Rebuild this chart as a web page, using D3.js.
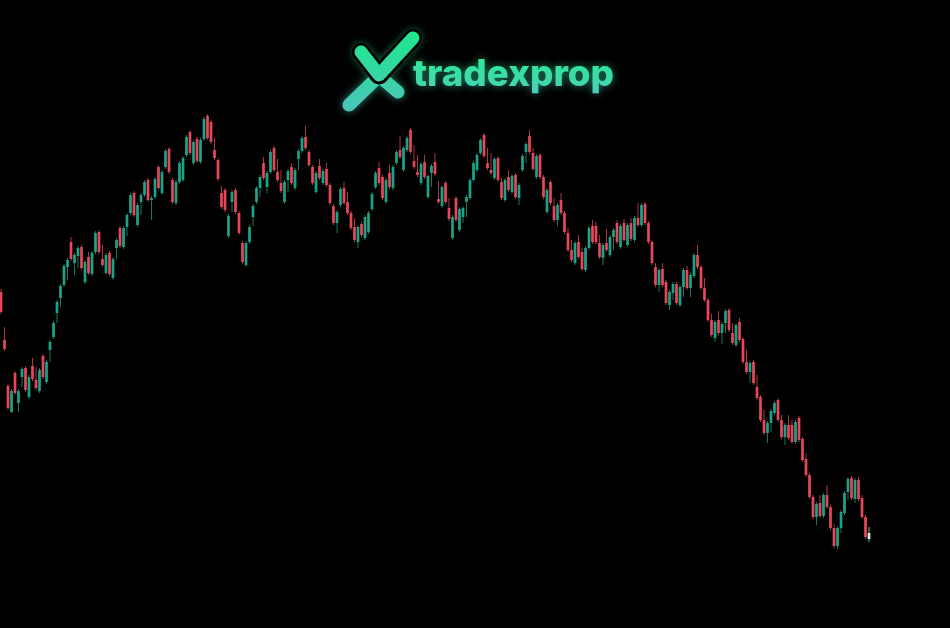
<!DOCTYPE html>
<html><head><meta charset="utf-8">
<script src="https://cdn.jsdelivr.net/npm/d3@7"></script>
<style>html,body{margin:0;padding:0;background:#000;overflow:hidden}</style>
</head><body>
<svg id="chart" width="950" height="628"></svg>
<script>
// OHLC series (price units), one entry per candle
const open = [708,660,614,588,627,597,623,632,603,634,620,609,644,618,650,663,687,702,715,733,758,737,744,753,718,743,726,748,768,741,
727,747,722,752,772,753,773,787,807,775,798,805,820,800,803,833,807,833,851,820,797,818,820,845,868,837,861,838,861,884,
878,850,840,807,810,764,798,810,787,757,735,758,783,798,812,837,813,828,852,828,817,798,820,833,812,841,849,863,848,833,
808,834,817,831,815,794,777,795,812,798,787,773,758,776,762,768,791,813,832,823,798,827,812,837,850,830,850,870,839,828,
817,838,803,827,838,801,794,817,792,762,802,770,783,798,802,820,830,847,865,837,830,822,842,818,800,823,808,825,802,830,
848,864,847,823,845,823,788,818,794,780,800,787,767,750,737,758,748,730,752,774,774,757,742,757,745,763,777,753,777,755,
777,760,782,775,796,777,758,733,715,731,718,695,707,716,695,713,730,712,724,745,733,712,700,680,662,680,667,677,690,667,
655,678,661,638,628,638,613,603,580,567,577,587,600,580,563,575,575,558,582,561,541,525,503,483,497,484,505,493,472,454,
472,487,508,522,501,520,502,483,461];
const high = [711,673,616,611,629,611,633,634,625,642,633,632,646,640,660,679,700,716,736,742,763,747,754,755,740,748,749,769,770,755,
747,749,743,762,774,774,787,807,809,797,807,820,822,804,823,835,830,851,853,822,820,839,844,865,870,860,863,862,883,886,
880,862,842,814,812,786,810,812,789,759,759,775,796,814,825,843,829,850,854,841,830,820,831,837,832,851,864,874,850,835,
829,841,831,837,817,796,790,813,818,808,789,782,775,778,785,789,808,829,838,825,822,835,835,850,864,854,864,872,855,845,
838,845,826,836,847,819,815,819,802,785,804,793,794,805,822,839,847,862,867,852,847,843,844,822,822,830,826,827,817,846,
858,870,852,846,847,825,812,820,802,797,807,789,772,760,759,765,752,754,774,780,778,765,757,771,765,772,780,776,781,777,
782,784,797,797,798,779,760,737,732,737,720,710,718,718,715,732,734,727,747,755,735,722,702,686,680,689,678,691,692,677,
677,682,663,650,639,640,625,605,590,579,591,599,602,585,577,585,580,580,584,563,547,527,505,498,505,507,515,495,476,474,
490,509,523,524,522,523,505,485,473];
const low = [686,649,590,587,605,588,613,608,601,619,610,607,621,616,638,661,677,693,713,720,739,725,732,730,716,725,724,746,746,733,
725,724,720,741,752,751,764,785,783,773,785,803,798,780,801,810,805,831,826,796,795,816,818,843,845,835,837,836,859,860,
856,840,819,791,788,762,788,786,765,736,733,756,774,796,803,820,807,826,828,818,807,796,808,815,810,830,847,850,833,815,
806,820,815,813,795,775,767,793,795,785,770,758,752,763,760,766,789,811,815,800,796,811,810,835,841,828,848,846,831,823,
815,821,801,813,824,796,792,796,779,760,778,768,777,783,800,818,828,845,842,830,825,820,818,800,798,808,806,801,795,828,
837,846,829,821,821,801,786,795,778,774,785,766,748,738,735,741,729,728,750,756,756,741,735,748,743,750,756,751,758,753,
759,758,773,773,775,756,735,713,708,713,695,690,700,695,693,703,710,703,722,731,710,698,678,663,658,665,656,667,668,655,
653,658,636,626,617,615,600,578,565,557,568,585,578,561,555,560,556,556,558,538,523,501,481,475,482,482,491,470,452,451,
467,485,500,500,497,499,481,461,458];
const close = [688,651,592,609,607,609,631,610,623,621,612,630,623,638,658,677,698,714,734,740,741,745,752,732,738,727,747,767,748,735,
745,726,741,760,754,772,785,805,785,795,805,818,800,802,821,812,828,849,828,798,818,837,842,863,847,858,839,860,881,862,
858,842,821,793,790,784,808,788,767,738,757,773,794,812,823,822,827,848,830,820,809,818,829,817,830,849,862,852,835,817,
827,822,829,815,797,777,788,811,797,787,772,760,773,765,783,787,806,827,817,802,820,813,833,848,843,852,862,848,833,825,
836,823,824,834,826,798,813,798,781,783,780,791,792,803,820,837,845,860,844,832,827,841,820,802,820,810,824,803,815,844,
856,848,831,844,823,803,810,797,780,795,787,768,750,740,757,743,731,752,772,758,758,743,755,750,763,770,758,774,760,775,
761,782,775,795,777,758,737,715,730,715,697,708,716,697,713,730,712,725,745,733,712,700,680,665,678,667,676,689,670,657,
675,660,638,628,637,617,602,580,567,577,589,597,580,563,575,562,558,578,560,540,525,503,483,496,484,505,493,472,454,472,
488,507,521,502,520,501,483,463,467];
const brandName = "tradexprop";

const W = 950, H = 628;
const svg = d3.select("#chart");
svg.append("rect").attr("width", W).attr("height", H).attr("fill", "#000");

const idx = d3.range(open.length);
const x = d3.scaleLinear().domain([0, open.length - 1]).range([1, 869]);
const y = d3.scaleLinear().domain([372, 1000]).range([H, 0]);

const upCol = "#1ba387", downCol = "#e6485a", lastCol = "#c6f2d8";
const colorOf = i => i === open.length - 1 ? lastCol : (close[i] >= open[i] ? upCol : downCol);
const bodyW = 2.7;

const g = svg.append("g");
g.selectAll("line.wick").data(idx).join("line").attr("class", "wick")
  .attr("x1", i => x(i)).attr("x2", i => x(i))
  .attr("y1", i => y(high[i])).attr("y2", i => y(low[i]))
  .attr("stroke", colorOf).attr("stroke-width", 1).attr("stroke-opacity", 0.75);
g.selectAll("rect.body").data(idx).join("rect").attr("class", "body")
  .attr("x", i => x(i) - bodyW / 2).attr("width", bodyW)
  .attr("y", i => y(Math.max(open[i], close[i])))
  .attr("height", i => Math.max(1, Math.abs(y(open[i]) - y(close[i]))))
  .attr("fill", colorOf);

// ---- logo ----
const defs = svg.append("defs");
const glow = defs.append("filter").attr("id", "glow").attr("x", "-30%").attr("y", "-60%").attr("width", "160%").attr("height", "220%");
glow.append("feGaussianBlur").attr("in", "SourceGraphic").attr("stdDeviation", 4).attr("result", "b");
glow.append("feComponentTransfer").attr("in", "b").attr("result", "b2")
  .append("feFuncA").attr("type", "linear").attr("slope", 0.6);
const m = glow.append("feMerge");
m.append("feMergeNode").attr("in", "b2");
m.append("feMergeNode").attr("in", "SourceGraphic");

const tg = defs.append("linearGradient").attr("id", "tgrad").attr("gradientUnits", "userSpaceOnUse")
  .attr("x1", 0).attr("y1", 58).attr("x2", 0).attr("y2", 98);
tg.append("stop").attr("offset", "0%").attr("stop-color", "#2ceb92");
tg.append("stop").attr("offset", "100%").attr("stop-color", "#4ccbc0");

const xg = defs.append("linearGradient").attr("id", "xgrad").attr("gradientUnits", "userSpaceOnUse")
  .attr("x1", 0).attr("y1", 32).attr("x2", 0).attr("y2", 112);
xg.append("stop").attr("offset", "0%").attr("stop-color", "#1ee88a");
xg.append("stop").attr("offset", "100%").attr("stop-color", "#4cc4bc");

const logo = svg.append("g").attr("filter", "url(#glow)");
// lower pieces
logo.append("line").attr("x1", 379).attr("y1", 76).attr("x2", 349).attr("y2", 105)
  .attr("stroke", "url(#xgrad)").attr("stroke-width", 13).attr("stroke-linecap", "round");
logo.append("line").attr("x1", 379).attr("y1", 76).attr("x2", 398).attr("y2", 92)
  .attr("stroke", "url(#xgrad)").attr("stroke-width", 13).attr("stroke-linecap", "round");
// check mark with dark outline
const vPts = [[361, 52], [379, 75], [413, 38]];
logo.append("path").attr("d", d3.line()(vPts)).attr("fill", "none")
  .attr("stroke", "#000").attr("stroke-width", 19).attr("stroke-linecap", "round").attr("stroke-linejoin", "round");
logo.append("path").attr("d", d3.line()(vPts)).attr("fill", "none")
  .attr("stroke", "url(#xgrad)").attr("stroke-width", 13).attr("stroke-linecap", "round").attr("stroke-linejoin", "round");
logo.append("text").attr("x", 413).attr("y", 86)
  .attr("font-family", "Inter, 'Open Sans', sans-serif").attr("font-weight", 800).attr("font-size", 37)
  .attr("textLength", 201).attr("lengthAdjust", "spacingAndGlyphs")
  .attr("fill", "url(#tgrad)").text(brandName);
</script>
</body></html>
